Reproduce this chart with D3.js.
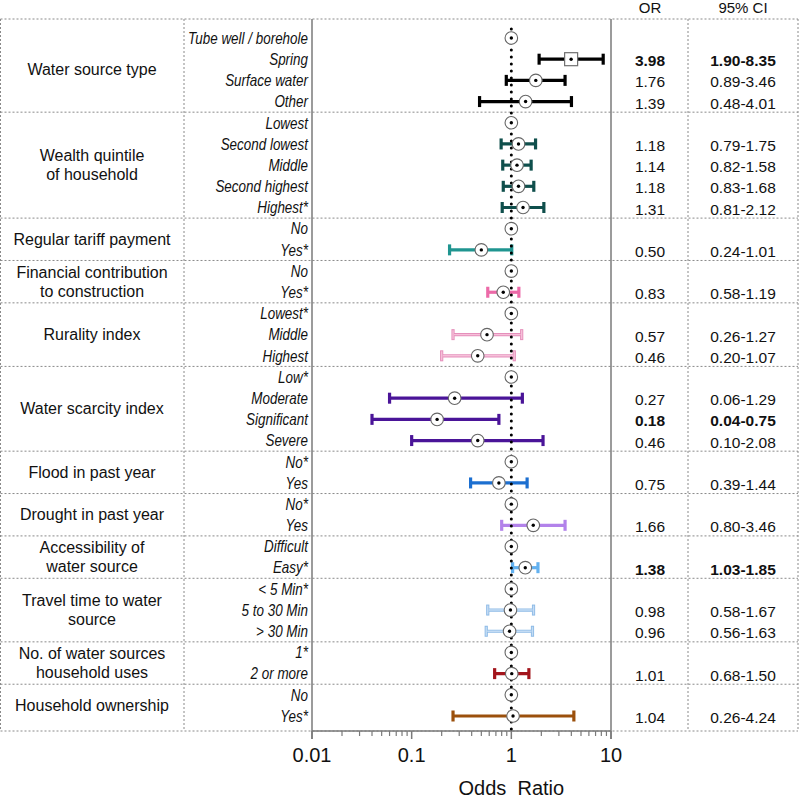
<!DOCTYPE html>
<html><head><meta charset="utf-8">
<script src="https://cdn.jsdelivr.net/npm/d3@7/dist/d3.min.js"></script>
<style>
body{margin:0;background:#fff;}
text{font-family:Arial,"Liberation Sans",sans-serif;fill:#111;}
.lvl{font-style:italic;}
</style></head>
<body><svg id="c" width="800" height="800"></svg>
<script>
// ---- data ----
const groupLabels = [
  ["Water source type"],
  ["Wealth quintile","of household"],
  ["Regular tariff payment"],
  ["Financial contribution","to construction"],
  ["Rurality index"],
  ["Water scarcity index"],
  ["Flood in past year"],
  ["Drought in past year"],
  ["Accessibility of","water source"],
  ["Travel time to water","source"],
  ["No. of water sources","household uses"],
  ["Household ownership"]
];
const levels = [
  ["Tube well / borehole","Spring","Surface water","Other"],
  ["Lowest","Second lowest","Middle","Second highest","Highest*"],
  ["No","Yes*"],
  ["No","Yes*"],
  ["Lowest*","Middle","Highest"],
  ["Low*","Moderate","Significant","Severe"],
  ["No*","Yes"],
  ["No*","Yes"],
  ["Difficult","Easy*"],
  ["< 5 Min*","5 to 30 Min","> 30 Min"],
  ["1*","2 or more"],
  ["No","Yes*"]
];
const orValues = [
  [null,3.98,1.76,1.39],
  [null,1.18,1.14,1.18,1.31],
  [null,0.50],
  [null,0.83],
  [null,0.57,0.46],
  [null,0.27,0.18,0.46],
  [null,0.75],
  [null,1.66],
  [null,1.38],
  [null,0.98,0.96],
  [null,1.01],
  [null,1.04]
];
const ciLow = [
  [null,1.90,0.89,0.48],
  [null,0.79,0.82,0.83,0.81],
  [null,0.24],
  [null,0.58],
  [null,0.26,0.20],
  [null,0.06,0.04,0.10],
  [null,0.39],
  [null,0.80],
  [null,1.03],
  [null,0.58,0.56],
  [null,0.68],
  [null,0.26]
];
const ciHigh = [
  [null,8.35,3.46,4.01],
  [null,1.75,1.58,1.68,2.12],
  [null,1.01],
  [null,1.19],
  [null,1.27,1.07],
  [null,1.29,0.75,2.08],
  [null,1.44],
  [null,3.46],
  [null,1.85],
  [null,1.67,1.63],
  [null,1.50],
  [null,4.24]
];
const orLabels = [
  ["","3.98","1.76","1.39"],
  ["","1.18","1.14","1.18","1.31"],
  ["","0.50"],["","0.83"],
  ["","0.57","0.46"],
  ["","0.27","0.18","0.46"],
  ["","0.75"],["","1.66"],["","1.38"],
  ["","0.98","0.96"],["","1.01"],["","1.04"]
];
const ciLabels = [
  ["","1.90-8.35","0.89-3.46","0.48-4.01"],
  ["","0.79-1.75","0.82-1.58","0.83-1.68","0.81-2.12"],
  ["","0.24-1.01"],["","0.58-1.19"],
  ["","0.26-1.27","0.20-1.07"],
  ["","0.06-1.29","0.04-0.75","0.10-2.08"],
  ["","0.39-1.44"],["","0.80-3.46"],["","1.03-1.85"],
  ["","0.58-1.67","0.56-1.63"],["","0.68-1.50"],["","0.26-4.24"]
];
const significant = [
  [false,true,false,false],[false,false,false,false,false],[false,false],[false,false],
  [false,false,false],[false,false,true,false],[false,false],[false,false],[false,true],
  [false,false,false],[false,false],[false,false]
];
const groupColors = ["#000000","#0f4f4c","#1f9590","#ec6aa8","#f6c0d9","#4a1498","#1c6fd0","#b282ea","#63b1ef","#c4dcf4","#a3151c","#9b500c"];
const groupOutline = [null,null,null,null,"#e58fbb",null,null,null,null,"#8dbae6",null,null];
const tickValues = [0.01,0.1,1,10];
const tickLabels = ["0.01","0.1","1","10"];

// ---- build rows ----
const rows = [];
levels.forEach((lv,g)=>lv.forEach((name,i)=>rows.push({
  g, i, name, or: orValues[g][i], lo: ciLow[g][i], hi: ciHigh[g][i],
  orT: orLabels[g][i], ciT: ciLabels[g][i], bold: significant[g][i],
  color: groupColors[g], outline: groupOutline[g], square: g===0 && i===1
})));
rows.forEach((r,k)=>r.k=k);

const svg = d3.select("#c");
const y = d3.scaleLinear().domain([0, rows.length-1]).range([38, 716]);
const x = d3.scaleLog().domain([0.01,10]).range([312,611]);
const step = y(1)-y(0);
const yTop = 19, yBot = 731;
const colL = 0.5, colG = 184, colR = 798, colCI = 688;

const dash = "2,2";
const gridC = "#8a8a8a";

// group separators
const groupStart = [];
let acc = 0;
levels.forEach(lv=>{groupStart.push(acc); acc+=lv.length;});
const sepY = groupStart.slice(1).map(s=>y(s)-step/2);
svg.append("g").selectAll("line").data([yTop, ...sepY, yBot]).join("line")
  .attr("x1",colL).attr("x2",colR).attr("y1",d=>d).attr("y2",d=>d)
  .attr("stroke",gridC).attr("stroke-width",1).attr("stroke-dasharray",dash);
svg.append("g").selectAll("line").data([colL,colG,colCI,colR]).join("line")
  .attr("x1",d=>d).attr("x2",d=>d).attr("y1",yTop).attr("y2",yBot)
  .attr("stroke",gridC).attr("stroke-width",1).attr("stroke-dasharray",dash);

// solid plot frame
svg.append("line").attr("x1",x(0.01)).attr("x2",x(0.01)).attr("y1",yTop).attr("y2",yBot+8)
  .attr("stroke","#7a7a7a").attr("stroke-width",1.5);
svg.append("line").attr("x1",x(10)).attr("x2",x(10)).attr("y1",yTop).attr("y2",yBot+8)
  .attr("stroke","#7a7a7a").attr("stroke-width",1.5);
svg.append("line").attr("x1",x(0.01)).attr("x2",x(10)).attr("y1",yBot).attr("y2",yBot)
  .attr("stroke","#7a7a7a").attr("stroke-width",1.5);

// ticks
const minor = [];
[0.01,0.1,1].forEach(d=>{for(let m=2;m<=9;m++) minor.push(d*m);});
svg.append("g").selectAll("line").data(minor).join("line")
  .attr("x1",d=>x(d)).attr("x2",d=>x(d)).attr("y1",yBot).attr("y2",yBot+5)
  .attr("stroke","#7a7a7a").attr("stroke-width",1.2);
svg.append("g").selectAll("line").data(tickValues).join("line")
  .attr("x1",d=>x(d)).attr("x2",d=>x(d)).attr("y1",yBot).attr("y2",yBot+8)
  .attr("stroke","#7a7a7a").attr("stroke-width",1.5);
svg.append("g").selectAll("text").data(tickValues).join("text")
  .attr("x",d=>x(d)).attr("y",762).attr("text-anchor","middle")
  .style("font-size","20px").text((d,i)=>tickLabels[i]);
svg.append("text").attr("x",x(1)).attr("y",795).attr("text-anchor","middle")
  .style("font-size","20px").text("Odds\u00a0 Ratio");

// headers
svg.append("text").attr("x",650).attr("y",13).attr("text-anchor","middle").style("font-size","15px").text("OR");
svg.append("text").attr("x",743).attr("y",13).attr("text-anchor","middle").style("font-size","15px").text("95% CI");

// group labels
groupLabels.forEach((lines,g)=>{
  const n = levels[g].length;
  const cy = (y(groupStart[g]) + y(groupStart[g]+n-1))/2;
  const lh = 19.5;
  lines.forEach((t,j)=>{
    svg.append("text").attr("x",92).attr("y",cy + (j-(lines.length-1)/2)*lh).attr("dy","0.35em")
      .attr("text-anchor","middle").style("font-size","16px").text(t);
  });
});

// level labels (condensed italic)
svg.append("g").selectAll("text").data(rows).join("text").attr("class","lvl")
  .attr("transform",d=>`translate(308,${y(d.k)}) scale(0.84,1)`)
  .attr("dy","0.36em").attr("text-anchor","end")
  .style("font-size","16px").text(d=>d.name);

// values
svg.append("g").selectAll("text").data(rows.filter(r=>r.orT)).join("text")
  .attr("x",650).attr("y",d=>y(d.k)+1.5).attr("dy","0.36em").attr("text-anchor","middle")
  .style("font-size","15.5px").style("font-weight",d=>d.bold?"bold":"normal").text(d=>d.orT);
svg.append("g").selectAll("text").data(rows.filter(r=>r.ciT)).join("text")
  .attr("x",743).attr("y",d=>y(d.k)+1.5).attr("dy","0.36em").attr("text-anchor","middle")
  .style("font-size","15.5px").style("font-weight",d=>d.bold?"bold":"normal").text(d=>d.ciT);

// error bars
const est = rows.filter(r=>r.or!==null);
const capH = 5.5;
const barG = svg.append("g");
barG.append("g").selectAll("line").data(est).join("line")
  .attr("x1",d=>x(d.lo)).attr("x2",d=>x(d.hi)).attr("y1",d=>y(d.k)).attr("y2",d=>y(d.k))
  .attr("stroke",d=>d.outline||d.color).attr("stroke-width",3.2);
["lo","hi"].forEach(key=>{
  barG.append("g").selectAll("line").data(est).join("line")
    .attr("x1",d=>x(d[key])).attr("x2",d=>x(d[key]))
    .attr("y1",d=>y(d.k)-capH).attr("y2",d=>y(d.k)+capH)
    .attr("stroke",d=>d.outline||d.color).attr("stroke-width",3.2);
});
const inner = svg.append("g");
const estO = est.filter(d=>d.outline);
inner.append("g").selectAll("line").data(estO).join("line")
  .attr("x1",d=>x(d.lo)+1).attr("x2",d=>x(d.hi)-1).attr("y1",d=>y(d.k)).attr("y2",d=>y(d.k))
  .attr("stroke",d=>d.color).attr("stroke-width",1.4);
["lo","hi"].forEach(key=>{
  inner.append("g").selectAll("line").data(estO).join("line")
    .attr("x1",d=>x(d[key])).attr("x2",d=>x(d[key]))
    .attr("y1",d=>y(d.k)-capH+1).attr("y2",d=>y(d.k)+capH-1)
    .attr("stroke",d=>d.color).attr("stroke-width",1.4);
});

// reference dotted line at OR = 1
svg.append("line").attr("x1",x(1)).attr("x2",x(1)).attr("y1",29).attr("y2",yBot)
  .attr("stroke","#000").attr("stroke-width",3).attr("stroke-linecap","round")
  .attr("stroke-dasharray","0,7");

// markers
const mk = svg.append("g");
rows.forEach(r=>{
  const cx = x(r.or===null?1:r.or), cy = y(r.k);
  if(r.square){
    mk.append("rect").attr("x",cx-6.5).attr("y",cy-6.5).attr("width",13).attr("height",13)
      .attr("fill","#fff").attr("stroke","#707070").attr("stroke-width",1.2);
  } else {
    mk.append("circle").attr("cx",cx).attr("cy",cy).attr("r",6.3)
      .attr("fill","#fff").attr("stroke","#666").attr("stroke-width",1.1);
  }
  mk.append("circle").attr("cx",cx).attr("cy",cy).attr("r",1.7).attr("fill","#000");
});
</script></body></html>
